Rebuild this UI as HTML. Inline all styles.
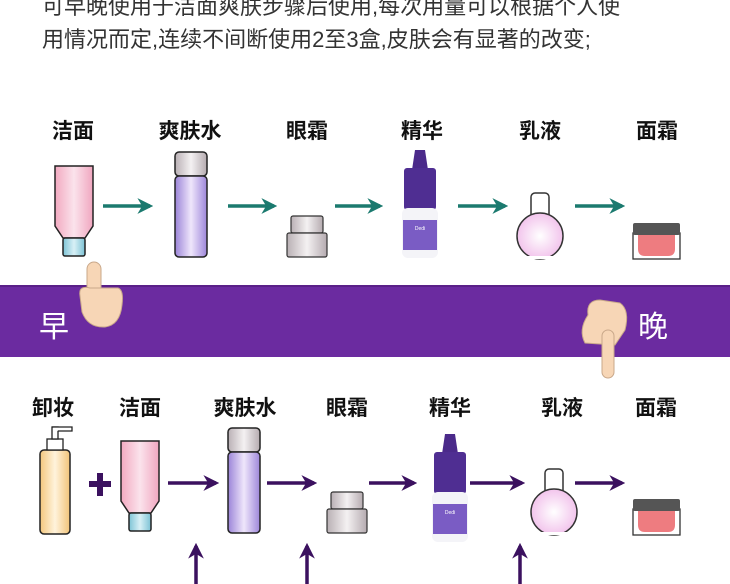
<!DOCTYPE html>
<html><head><meta charset="utf-8"><style>
html,body{margin:0;padding:0;background:#fff;}
svg{display:block;}
text{font-family:"Liberation Sans","Noto Sans CJK SC",sans-serif;}
</style></head><body>
<svg width="730" height="584" viewBox="0 0 730 584" xmlns="http://www.w3.org/2000/svg">
<defs>
<linearGradient id="pink" x1="0" x2="1"><stop offset="0" stop-color="#f2a9c0"/><stop offset=".5" stop-color="#fbe3ec"/><stop offset="1" stop-color="#f0a6bf"/></linearGradient>
<linearGradient id="lav" x1="0" x2="1"><stop offset="0" stop-color="#9b84d8"/><stop offset=".5" stop-color="#efe6fb"/><stop offset="1" stop-color="#9d86da"/></linearGradient>
<linearGradient id="gray" x1="0" x2="1"><stop offset="0" stop-color="#b9b0b4"/><stop offset=".5" stop-color="#f4f1f2"/><stop offset="1" stop-color="#b5abb0"/></linearGradient>
<linearGradient id="blue" x1="0" x2="1"><stop offset="0" stop-color="#7ec4d6"/><stop offset=".5" stop-color="#d8f0f6"/><stop offset="1" stop-color="#7cc2d4"/></linearGradient>
<linearGradient id="gold" x1="0" x2="1"><stop offset="0" stop-color="#f3c77d"/><stop offset=".5" stop-color="#fff3dc"/><stop offset="1" stop-color="#f1c378"/></linearGradient>
<radialGradient id="ball"><stop offset="0" stop-color="#fff"/><stop offset="1" stop-color="#f2c4ec"/></radialGradient>
<g id="tube"><path d="M0 0 H38 V60 L30 72 H8 L0 60 Z" fill="url(#pink)" stroke="#222" stroke-width="1.5"/><rect x="8" y="72" width="22" height="18" rx="2" fill="url(#blue)" stroke="#222" stroke-width="1.5"/></g>
<g id="toner"><rect x="0" y="0" width="32" height="24" rx="4" fill="url(#gray)" stroke="#222" stroke-width="1.5"/><rect x="0" y="24" width="32" height="81" rx="4" fill="url(#lav)" stroke="#222" stroke-width="1.5"/></g>
<g id="eye"><rect x="4" y="0" width="32" height="17" rx="2" fill="url(#gray)" stroke="#333" stroke-width="1.2"/><rect x="0" y="17" width="40" height="24" rx="2" fill="url(#gray)" stroke="#333" stroke-width="1.2"/></g>
<g id="serum"><path d="M17 0 H27 L30 20 H14 Z" fill="#4b2a8a"/><rect x="6" y="18" width="32" height="42" rx="3" fill="#4f2e92"/><rect x="4" y="58" width="36" height="50" rx="6" fill="#f4f4f8"/><rect x="5" y="70" width="34" height="30" fill="#7a5cc4"/><text x="22" y="80" font-size="5" fill="#fff" text-anchor="middle">Dedi</text></g>
<g id="lotion"><rect x="15" y="0" width="18" height="26" rx="4" fill="#fff" stroke="#333" stroke-width="1.5"/><circle cx="24" cy="43" r="23" fill="url(#ball)" stroke="#333" stroke-width="1.5"/><rect x="6" y="63" width="36" height="3" fill="#fff"/></g>
<g id="cream"><rect x="0" y="10" width="47" height="26" fill="#fff" stroke="#333" stroke-width="1.3"/><rect x="0" y="0" width="47" height="12" rx="2" fill="#555"/><path d="M5 12 H42 V26 Q42 33 35 33 H12 Q5 33 5 26 Z" fill="#ee7c80"/></g>
<marker id="ta" viewBox="0 0 10 10" markerWidth="4.5" markerHeight="4.5" refX="8" refY="5" orient="auto" markerUnits="strokeWidth"><path d="M0 0 L10 5 L0 10 L3 5 Z" fill="#1b7a6f"/></marker>
<marker id="pa" viewBox="0 0 10 10" markerWidth="4.5" markerHeight="4.5" refX="8" refY="5" orient="auto" markerUnits="strokeWidth"><path d="M0 0 L10 5 L0 10 L3 5 Z" fill="#3b115f"/></marker>
</defs>

<text x="42" y="14" font-size="22" fill="#333">可早晚使用于洁面爽肤步骤后使用,每次用量可以根据个人使</text>
<text x="42" y="47" font-size="22" fill="#333">用情况而定,连续不间断使用2至3盒,皮肤会有显著的改变;</text>

<g font-size="21" font-weight="bold" fill="#111" text-anchor="middle">
<text x="73" y="138">洁面</text><text x="190" y="138">爽肤水</text><text x="307" y="138">眼霜</text><text x="422" y="138">精华</text><text x="540" y="138">乳液</text><text x="657" y="138">面霜</text>
<text x="53" y="415">卸妆</text><text x="140" y="415">洁面</text><text x="245" y="415">爽肤水</text><text x="347" y="415">眼霜</text><text x="450" y="415">精华</text><text x="562" y="415">乳液</text><text x="656" y="415">面霜</text>
</g>

<use href="#tube" x="55" y="166"/>
<use href="#toner" x="175" y="152"/>
<use href="#eye" x="287" y="216"/>
<use href="#serum" x="398" y="150"/>
<use href="#lotion" x="516" y="193"/>
<use href="#cream" x="633" y="223"/>
<g stroke="#1b7a6f" stroke-width="3.5" marker-end="url(#ta)">
<line x1="103" y1="206" x2="150" y2="206"/><line x1="228" y1="206" x2="274" y2="206"/><line x1="335" y1="206" x2="380" y2="206"/><line x1="458" y1="206" x2="505" y2="206"/><line x1="575" y1="206" x2="622" y2="206"/>
</g>

<rect x="0" y="285" width="730" height="72" fill="#6b2ba0"/>
<rect x="0" y="285" width="730" height="2" fill="#5a2088"/>
<text x="39" y="337" font-size="30" fill="#fff">早</text>
<text x="638" y="337" font-size="30" fill="#fff">晚</text>
<g fill="#f7d6b6" stroke="#c9a88a" stroke-width="1">
<rect x="87" y="262" width="14" height="40" rx="7"/>
<path d="M80 296 Q78 285 90 288 L118 288 Q124 290 122 305 Q120 325 105 327 Q88 328 82 312 Z"/>
<path d="M588 315 Q586 300 600 300 L620 303 Q630 310 625 330 L615 345 L585 343 Q578 330 588 315 Z"/>
<rect x="602" y="330" width="12" height="48" rx="6"/>
</g>

<rect x="40" y="450" width="30" height="84" rx="4" fill="url(#gold)" stroke="#222" stroke-width="1.5"/>
<rect x="47" y="439" width="16" height="11" fill="#fff" stroke="#222" stroke-width="1.3"/>
<rect x="52" y="427" width="6" height="12" fill="#fff" stroke="#222" stroke-width="1.3"/>
<path d="M52 427 H72 V431 H58" fill="#fff" stroke="#222" stroke-width="1.3"/>
<path d="M100 473 V496 M89 484 H111" stroke="#3b115f" stroke-width="6"/>
<use href="#tube" x="121" y="441"/>
<use href="#toner" x="228" y="428"/>
<use href="#eye" x="327" y="492"/>
<use href="#serum" x="428" y="434"/>
<use href="#lotion" x="530" y="469"/>
<use href="#cream" x="633" y="499"/>
<g stroke="#3b115f" stroke-width="3.5" marker-end="url(#pa)">
<line x1="168" y1="483" x2="216" y2="483"/><line x1="267" y1="483" x2="314" y2="483"/><line x1="369" y1="483" x2="414" y2="483"/><line x1="470" y1="483" x2="522" y2="483"/><line x1="575" y1="483" x2="622" y2="483"/>
<line x1="196" y1="584" x2="196" y2="546"/><line x1="307" y1="584" x2="307" y2="546"/><line x1="520" y1="584" x2="520" y2="546"/>
</g>
</svg>
</body></html>
